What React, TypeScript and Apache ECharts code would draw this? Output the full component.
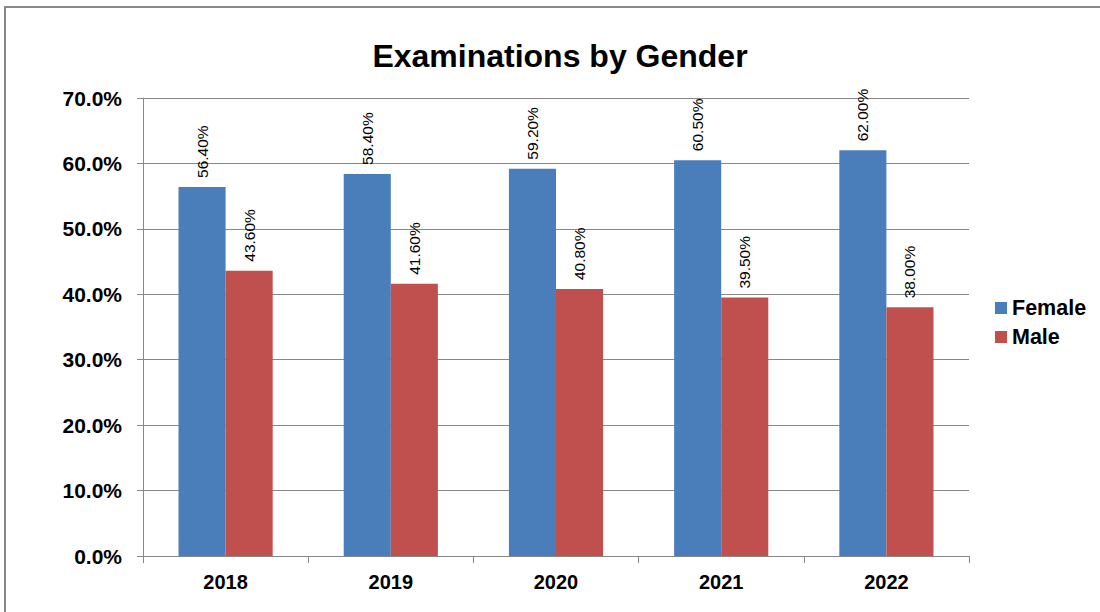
import React, { useEffect, useRef } from "react";
import * as echarts from "echarts";

const categories = ["2018", "2019", "2020", "2021", "2022"];
const female = [56.4, 58.4, 59.2, 60.5, 62.0];
const male = [43.6, 41.6, 40.8, 39.5, 38.0];
const seriesNames = ["Female", "Male"];
const title = "Examinations by Gender";

export default function App() {
  const ref = useRef<HTMLDivElement>(null);
  useEffect(() => {
    if (!ref.current) return;
    const chart = echarts.init(ref.current, null, { renderer: "svg" });
    const font = "'Liberation Sans', Arial, sans-serif";
    const label = {
      show: true,
      position: "top",
      rotate: 90,
      align: "left",
      verticalAlign: "middle",
      distance: 9,
      fontSize: 15.5,
      fontFamily: font,
      color: "#000",
      formatter: (p: any) => Number(p.value).toFixed(2) + "%",
    };
    chart.setOption({
      animation: false,
      backgroundColor: "#fff",
      textStyle: { fontFamily: font },
      title: {
        text: title,
        left: 555,
        textAlign: "center",
        top: 35,
        textStyle: { fontSize: 32, fontWeight: "bold", color: "#000", fontFamily: font },
      },
      graphic: [
        {
          type: "rect",
          shape: { x: 5, y: 7, width: 1200, height: 800 },
          style: { fill: "none", stroke: "#888", lineWidth: 2 },
          silent: true,
        },
      ],
      legend: {
        orient: "vertical",
        left: 990,
        top: 292,
        itemWidth: 12,
        itemHeight: 12,
        itemGap: 7,
        icon: "rect",
        data: seriesNames,
        textStyle: { fontSize: 21.5, fontWeight: "bold", color: "#000", fontFamily: font },
      },
      grid: { left: 143, right: 131, top: 98, bottom: 56 },
      xAxis: {
        type: "category",
        data: categories,
        axisLine: { lineStyle: { color: "#888", width: 1 } },
        axisTick: { show: true, length: 7, lineStyle: { color: "#888" } },
        axisLabel: { fontSize: 20, fontWeight: "bold", color: "#000", margin: 16, fontFamily: font },
      },
      yAxis: {
        type: "value",
        min: 0,
        max: 70,
        interval: 10,
        axisLine: { show: true, lineStyle: { color: "#888", width: 1 } },
        axisTick: { show: true, length: 6, lineStyle: { color: "#888" } },
        splitLine: { lineStyle: { color: "#888", width: 1 } },
        axisLabel: {
          fontSize: 21,
          fontWeight: "bold",
          color: "#000",
          margin: 21,
          fontFamily: font,
          formatter: (v: number) => v.toFixed(1) + "%",
        },
      },
      series: [
        {
          name: seriesNames[0],
          type: "bar",
          data: female,
          barWidth: "28.5%",
          barGap: "0%",
          itemStyle: { color: "#4A7EBB" },
          label,
        },
        {
          name: seriesNames[1],
          type: "bar",
          data: male,
          barWidth: "28.5%",
          barGap: "0%",
          itemStyle: { color: "#C0504D" },
          label,
        },
      ],
    });
    return () => chart.dispose();
  }, []);
  return (
    <div
      ref={ref}
      style={{ position: "fixed", left: 0, top: 0, width: 1100, height: 612 }}
    />
  );
}
